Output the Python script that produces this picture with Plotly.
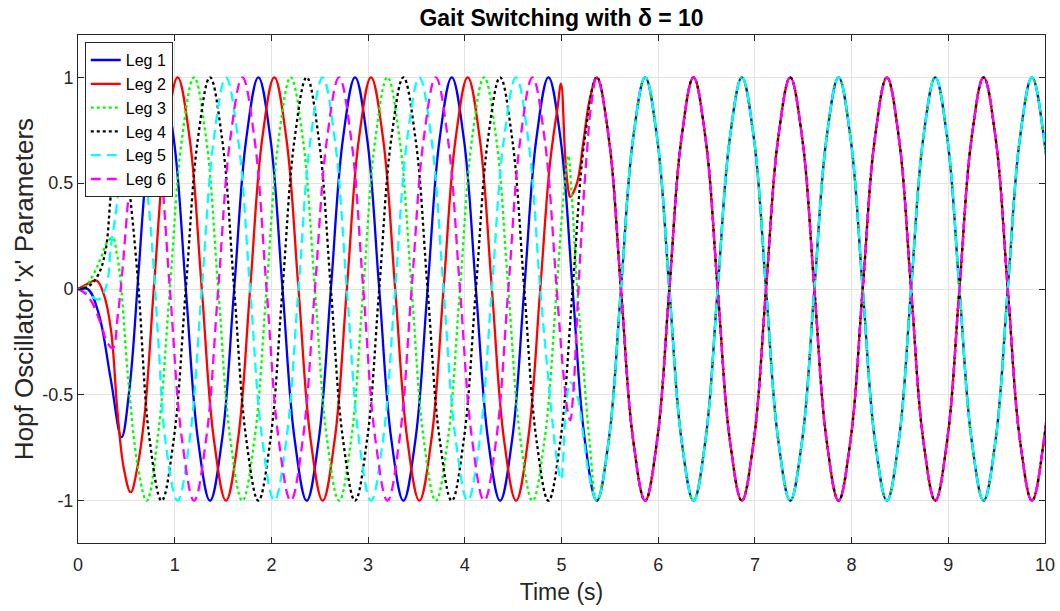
import plotly.graph_objects as go

# ---- sample times (s) of the steady oscillation, shared by legs in step ----
cycle_t_14 = [0.865, 0.99, 1.115, 1.24, 1.365, 1.49, 1.615, 1.74,
              1.865, 1.99, 2.115, 2.24, 2.365, 2.49, 2.615, 2.74,
              2.865, 2.99, 3.115, 3.24, 3.365, 3.49, 3.615, 3.74,
              3.865, 3.99, 4.115, 4.24, 4.365, 4.49, 4.615, 4.74,
              4.865, 4.99, 5.115, 5.24]
cycle_t_25 = [1.03, 1.155, 1.28, 1.405, 1.53, 1.655, 1.78, 1.905,
              2.03, 2.155, 2.28, 2.405, 2.53, 2.655, 2.78, 2.905,
              3.03, 3.155, 3.28, 3.405, 3.53, 3.655, 3.78, 3.905,
              4.03, 4.155, 4.28, 4.405, 4.53, 4.655, 4.78]
cycle_t_36 = [1.20, 1.325, 1.45, 1.575, 1.70, 1.825, 1.95, 2.075,
              2.20, 2.325, 2.45, 2.575, 2.70, 2.825, 2.95, 3.075,
              3.20, 3.325, 3.45, 3.575, 3.70, 3.825, 3.95, 4.075,
              4.20, 4.325, 4.45, 4.575, 4.70, 4.825, 4.95]
late_t = [5.365, 5.49, 5.615, 5.74, 5.865, 5.99, 6.115, 6.24,
          6.365, 6.49, 6.615, 6.74, 6.865, 6.99, 7.115, 7.24,
          7.365, 7.49, 7.615, 7.74, 7.865, 7.99, 8.115, 8.24,
          8.365, 8.49, 8.615, 8.74, 8.865, 8.99, 9.115, 9.24,
          9.365, 9.49, 9.615, 9.74, 9.865, 9.99, 10.115]

# ---- oscillator values at those times (starting at a crest / a trough) ----
swing_hi = [1, 0.71, 0, -0.71, -1, -0.71, 0, 0.71,
            1, 0.71, 0, -0.71, -1, -0.71, 0, 0.71,
            1, 0.71, 0, -0.71, -1, -0.71, 0, 0.71,
            1, 0.71, 0, -0.71, -1, -0.71, 0, 0.71,
            1, 0.71, 0, -0.71, -1, -0.71, 0]
swing_lo = [-1, -0.71, 0, 0.71, 1, 0.71, 0, -0.71,
            -1, -0.71, 0, 0.71, 1, 0.71, 0, -0.71,
            -1, -0.71, 0, 0.71, 1, 0.71, 0, -0.71,
            -1, -0.71, 0, 0.71, 1, 0.71, 0, -0.71,
            -1, -0.71, 0, 0.71, 1, 0.71, 0]

# ---- start-up transients ----
leg1_start_t = [0.00, 0.10, 0.21, 0.34, 0.45, 0.53, 0.62, 0.69, 0.745]
leg1_start_x = [0.00, 0.00, -0.11, -0.43, -0.70, -0.48, 0.04, 0.48, 0.72]
leg2_start_t = [0.00, 0.08, 0.19, 0.27, 0.34, 0.41, 0.475, 0.545, 0.615, 0.69, 0.79, 0.91]
leg2_start_x = [0.00, 0.02, 0.04, -0.03, -0.19, -0.59, -0.85, -0.96, -0.84, -0.59, 0.04, 0.71]
leg3_start_t = [0.00, 0.07, 0.16, 0.24, 0.30, 0.36, 0.40, 0.44, 0.52, 0.62, 0.71, 0.83, 0.95, 1.075]
leg3_start_x = [0.00, 0.01, 0.07, 0.15, 0.22, 0.24, 0.17, 0.04, -0.43, -0.84, -1.00, -0.68, 0.00, 0.71]
leg4_start_t = [0.00, 0.10, 0.20, 0.28, 0.34, 0.40, 0.45, 0.53, 0.62, 0.74]
leg4_start_x = [0.00, 0.01, 0.06, 0.17, 0.45, 0.72, 0.80, 0.48, 0.04, -0.71]
leg5_start_t = [0.00, 0.10, 0.21, 0.29, 0.34, 0.40, 0.47, 0.54, 0.64, 0.72, 0.78, 0.83, 0.91]
leg5_start_x = [0.00, -0.02, -0.05, 0.01, 0.20, 0.39, 0.72, 0.92, 0.76, 0.45, 0.12, -0.24, -0.74]
leg6_start_t = [0.00, 0.07, 0.14, 0.24, 0.30, 0.36, 0.41, 0.45, 0.52, 0.575, 0.70, 0.825, 0.95, 1.075]
leg6_start_x = [0.00, -0.02, -0.06, -0.17, -0.25, -0.28, -0.13, 0.04, 0.43, 0.71, 1.00, 0.71, 0.00, -0.71]

# ---- gait switch around t = 5 s ----
leg2_switch_t = [4.88, 4.96, 4.995, 5.04, 5.07, 5.09, 5.16, 5.225, 5.29]
leg2_switch_x = [0.59, 0.86, 0.97, 0.61, 0.47, 0.435, 0.50, 0.69, 0.89]
leg3_switch_t = [5.02, 5.07, 5.105, 5.16, 5.22, 5.29]
leg3_switch_x = [0.43, 0.63, 0.45, 0.02, -0.33, -0.72]
leg5_switch_t = [4.85, 4.90, 4.95, 4.995, 5.04, 5.07, 5.09, 5.16, 5.225, 5.29]
leg5_switch_x = [-0.36, -0.60, -0.80, -0.90, -0.60, -0.47, -0.44, -0.50, -0.69, -0.89]
leg6_switch_t = [5.02, 5.065, 5.09, 5.12, 5.17, 5.21, 5.26, 5.31]
leg6_switch_x = [-0.40, -0.58, -0.62, -0.50, -0.05, 0.29, 0.63, 0.88]

legs = [
    ("Leg 1", leg1_start_t + cycle_t_14 + late_t,
     leg1_start_x + swing_hi[:36] + swing_lo, "#0000ff", "solid"),
    ("Leg 2", leg2_start_t + cycle_t_25 + leg2_switch_t + late_t,
     leg2_start_x + swing_hi[:31] + leg2_switch_x + swing_hi, "#ff0000", "solid"),
    ("Leg 3", leg3_start_t + cycle_t_36 + leg3_switch_t + late_t,
     leg3_start_x + swing_hi[:31] + leg3_switch_x + swing_lo, "#00ff00", "3px,3px"),
    ("Leg 4", leg4_start_t + cycle_t_14 + late_t,
     leg4_start_x + swing_lo[:36] + swing_hi, "#000000", "3px,3px"),
    ("Leg 5", leg5_start_t + cycle_t_25 + leg5_switch_t + late_t,
     leg5_start_x + swing_lo[:31] + leg5_switch_x + swing_lo, "#00ffff", "10px,6px"),
    ("Leg 6", leg6_start_t + cycle_t_36 + leg6_switch_t + late_t,
     leg6_start_x + swing_lo[:31] + leg6_switch_x + swing_hi, "#ff00ff", "10px,6px"),
]

FONT = "Liberation Sans, Arial, sans-serif"
INK = "#262626"

fig = go.Figure()
for name, t, x, color, dash in legs:
    fig.add_trace(go.Scatter(
        x=t, y=x, name=name, mode="lines",
        line=dict(color=color, width=2.3, dash=dash, shape="spline", smoothing=1.1),
    ))

axis_common = dict(
    showline=True, linecolor=INK, linewidth=1, mirror="ticks",
    ticks="inside", ticklen=6, tickcolor=INK, tickwidth=1,
    showgrid=True, gridcolor="#e3e3e3", gridwidth=1, zeroline=False,
    automargin=False,
    tickfont=dict(family=FONT, size=18, color=INK),
)

fig.update_layout(
    width=1060, height=611,
    margin=dict(l=78, r=15, t=35, b=68),
    paper_bgcolor="white", plot_bgcolor="white",
    title=dict(text="<b>Gait Switching with δ = 10</b>", x=0.5, xref="paper",
               y=0.971, yref="container", yanchor="middle",
               font=dict(family=FONT, size=23, color="#000000")),
    xaxis=dict(range=[0, 10], tickvals=[0, 1, 2, 3, 4, 5, 6, 7, 8, 9, 10],
               ticklabelstandoff=5,
               title=dict(text="Time (s)", standoff=10,
                          font=dict(family=FONT, size=23, color=INK)),
               **axis_common),
    yaxis=dict(range=[-1.2, 1.2], tickvals=[-1, -0.5, 0, 0.5, 1],
               ticktext=["-1", "-0.5", "0", "0.5", "1"],
               title=dict(text="Hopf Oscillator 'x' Parameters", standoff=1,
                          font=dict(family=FONT, size=26, color=INK)),
               **axis_common),
    legend=dict(x=0.007, y=0.986, xanchor="left", yanchor="top",
                bgcolor="white", bordercolor=INK, borderwidth=1,
                font=dict(family=FONT, size=16, color="#000000"),
                tracegroupgap=0),
    showlegend=True,
)

fig.write_html("out.html")
